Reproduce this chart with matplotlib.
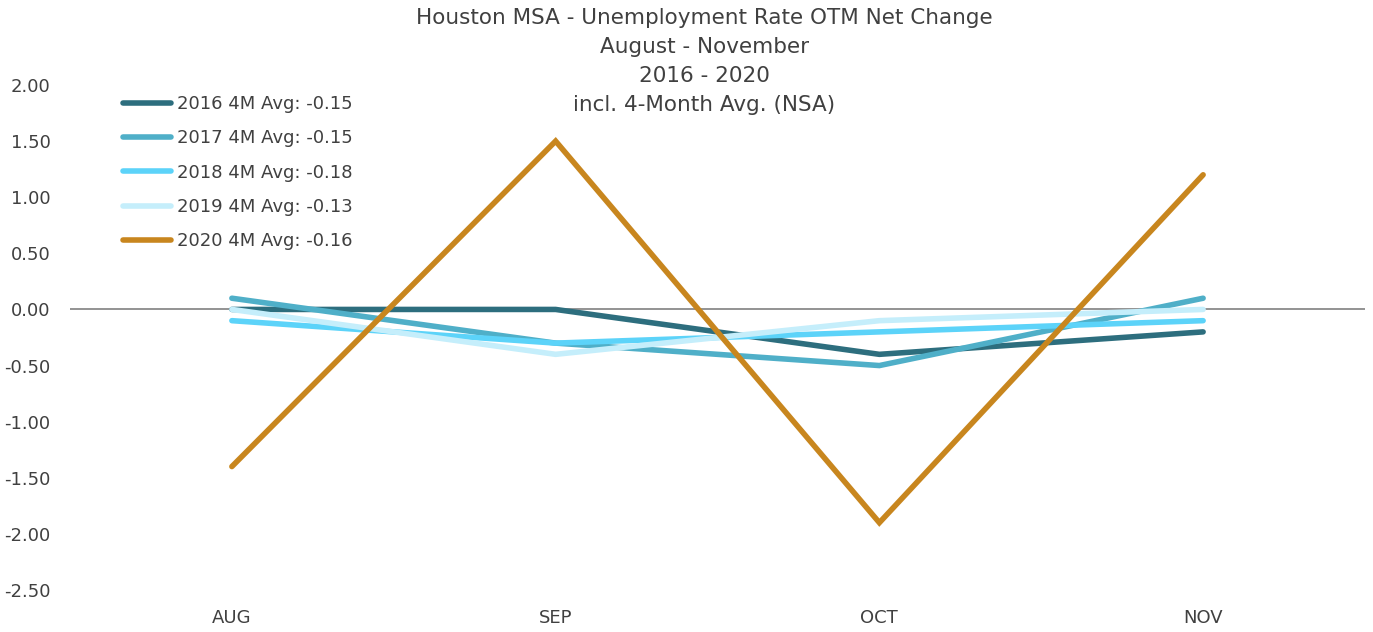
import matplotlib.pyplot as plt
import numpy as np

# chart data
months = ["AUG", "SEP", "OCT", "NOV"]
y2016 = [0.0, 0.0, -0.4, -0.2]
y2017 = [0.1, -0.3, -0.5, 0.1]
y2018 = [-0.1, -0.3, -0.2, -0.1]
y2019 = [0.0, -0.4, -0.1, 0.0]
y2020 = [-1.4, 1.5, -1.9, 1.2]
labels = ["2016 4M Avg: -0.15", "2017 4M Avg: -0.15", "2018 4M Avg: -0.18",
          "2019 4M Avg: -0.13", "2020 4M Avg: -0.16"]
colors = ["#2D6E7E", "#4FAFC8", "#5CD3F9", "#C5EEFB", "#C8861E"]
yticks = [2.0, 1.5, 1.0, 0.5, 0.0, -0.5, -1.0, -1.5, -2.0, -2.5]

txt = "#404040"
plt.rcParams['font.family'] = ['DejaVu Sans']

fig = plt.figure(figsize=(13.73, 6.32), dpi=100)
ax = fig.add_axes([70 / 1373, 1 - 590 / 632, 1295 / 1373, 505 / 632])

x = np.arange(len(months))
for ys, lab, c in zip([y2016, y2017, y2018, y2019, y2020], labels, colors):
    ax.plot(x, ys, color=c, lw=4, label=lab, solid_capstyle="round",
            solid_joinstyle="miter")

# zero line
ax.axhline(0, color="#808080", lw=1.2, zorder=0)

ax.set_xlim(-0.5, 3.5)
ax.set_ylim(-2.5, 2.0)
ax.set_xticks(x)
ax.set_xticklabels(months)
ax.set_yticks(yticks)
ax.set_yticklabels(["%.2f" % v for v in yticks])
ax.tick_params(axis="both", length=0, labelsize=13, labelcolor=txt)
ax.tick_params(axis="y", pad=14)
ax.tick_params(axis="x", pad=14)
for s in ax.spines.values():
    s.set_visible(False)

fig.text(0.513, 0.987, "Houston MSA - Unemployment Rate OTM Net Change\nAugust - November\n2016 - 2020\nincl. 4-Month Avg. (NSA)",
         ha="center", va="top", fontsize=15.5, color=txt, linespacing=1.55)

leg = ax.legend(loc="upper left", bbox_to_anchor=(0.028, 1.012), frameon=False,
                fontsize=13, handlelength=2.7, handletextpad=0.3, labelspacing=0.9,
                labelcolor=txt)

plt.savefig("out.png", dpi=100)
